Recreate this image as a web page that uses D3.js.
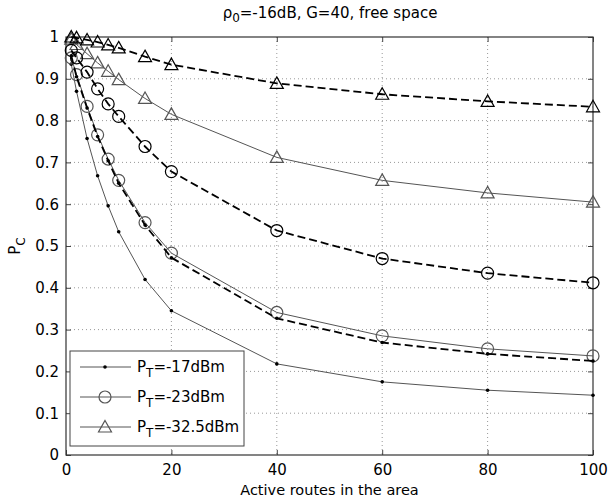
<!DOCTYPE html>
<html>
<head>
<meta charset="utf-8">
<script src="https://cdn.jsdelivr.net/npm/d3@7"></script>
<style>
  body { margin: 0; background: #fff; }
  svg text { font-family: "DejaVu Sans", Arial, sans-serif; fill: #000; }
  .grid line { stroke: #999; stroke-dasharray: 1,3; }
</style>
</head>
<body>
<div id="chart"></div>
<script>
// x values (active routes)
var routes = [1, 2, 4, 6, 8, 10, 15, 20, 40, 60, 80, 100];

// P_T = -17dBm
var pt17Solid  = [0.935, 0.87, 0.757, 0.668, 0.596, 0.534, 0.42, 0.345, 0.218, 0.175, 0.155, 0.143];
var pt17Dashed = [0.955, 0.905, 0.83, 0.762, 0.704, 0.65, 0.55, 0.472, 0.327, 0.269, 0.242, 0.225];
// P_T = -23dBm
var pt23Solid  = [0.95, 0.91, 0.834, 0.766, 0.708, 0.657, 0.556, 0.483, 0.341, 0.285, 0.254, 0.237];
var pt23Dashed = [0.968, 0.95, 0.916, 0.876, 0.84, 0.81, 0.738, 0.678, 0.537, 0.47, 0.435, 0.412];
// P_T = -32.5dBm
var pt32Solid  = [0.995, 0.982, 0.96, 0.938, 0.918, 0.898, 0.853, 0.815, 0.712, 0.657, 0.627, 0.605];
var pt32Dashed = [1.0, 0.998, 0.993, 0.988, 0.981, 0.974, 0.953, 0.934, 0.889, 0.863, 0.846, 0.833];

var xTicks = [0, 20, 40, 60, 80, 100];
var yTicks = [0, 0.1, 0.2, 0.3, 0.4, 0.5, 0.6, 0.7, 0.8, 0.9, 1];
var legendLabels = ["-17dBm", "-23dBm", "-32.5dBm"];

var series = [
  { values: pt17Solid,  marker: "dot",      dashed: false },
  { values: pt17Dashed, marker: "dot",      dashed: true },
  { values: pt23Solid,  marker: "circle",   dashed: false },
  { values: pt23Dashed, marker: "circle",   dashed: true },
  { values: pt32Solid,  marker: "triangle", dashed: false },
  { values: pt32Dashed, marker: "triangle", dashed: true }
];

var margin = { top: 37, right: 15, bottom: 49, left: 66 };
var width = 608 - margin.left - margin.right,
    height = 504 - margin.top - margin.bottom;

var svg = d3.select("#chart").append("svg")
    .attr("width", 608)
    .attr("height", 504);

var g = svg.append("g")
    .attr("transform", "translate(" + margin.left + "," + margin.top + ")");

var x = d3.scaleLinear().domain([0, 100]).range([0, width]);
var y = d3.scaleLinear().domain([0, 1]).range([height, 0]);

// grid
g.append("g").attr("class", "grid")
  .selectAll("line").data(xTicks.slice(1, -1)).join("line")
  .attr("x1", d => x(d)).attr("x2", d => x(d))
  .attr("y1", 0).attr("y2", height);
g.append("g").attr("class", "grid")
  .selectAll("line").data(yTicks.slice(1, -1)).join("line")
  .attr("x1", 0).attr("x2", width)
  .attr("y1", d => y(d)).attr("y2", d => y(d));

// axes (ticks inward)
var xAxis = d3.axisBottom(x).tickValues(xTicks).tickSize(-5).tickPadding(9).tickFormat(d3.format("d"));
var yAxis = d3.axisLeft(y).tickValues(yTicks).tickSize(-5).tickPadding(7).tickFormat(d => d === 0 || d === 1 ? d : d3.format(".1f")(d));

var gx = g.append("g").attr("transform", "translate(0," + height + ")").call(xAxis);
var gy = g.append("g").call(yAxis);
[gx, gy].forEach(function (a) {
  a.select(".domain").remove();
  a.selectAll("line").attr("stroke", "#444");
  a.selectAll("text").style("font-size", "15px").attr("fill", "#000");
});
// top/right ticks
g.append("g").call(d3.axisTop(x).tickValues(xTicks).tickSize(-5).tickFormat(""))
  .call(a => { a.select(".domain").remove(); a.selectAll("line").attr("stroke", "#444"); });
g.append("g").attr("transform", "translate(" + width + ",0)")
  .call(d3.axisRight(y).tickValues(yTicks).tickSize(-5).tickFormat(""))
  .call(a => { a.select(".domain").remove(); a.selectAll("line").attr("stroke", "#444"); });

// box
g.append("rect").attr("width", width).attr("height", height)
  .attr("fill", "none").attr("stroke", "#333").attr("stroke-width", 1.2);

var line = d3.line().x((d, i) => x(routes[i])).y(d => y(d));

function drawMarker(sel, type, color) {
  if (type === "dot") {
    sel.append("circle").attr("r", 1.8).attr("fill", "#000");
  } else if (type === "circle") {
    sel.append("circle").attr("r", 6).attr("fill", "none").attr("stroke", color).attr("stroke-width", 1.2);
  } else {
    sel.append("path").attr("d", "M0,-6.5L6.5,5L-6.5,5Z").attr("fill", "none").attr("stroke", color).attr("stroke-width", 1.2);
  }
}

// solid first, dashed on top
series.slice().sort((a, b) => a.dashed - b.dashed).forEach(function (s) {
  var color = s.dashed ? "#000" : "#555";
  g.append("path").datum(s.values)
    .attr("fill", "none")
    .attr("stroke", color)
    .attr("stroke-width", s.dashed ? 1.8 : 1)
    .attr("stroke-dasharray", s.dashed ? "8,4" : null)
    .attr("d", line);
  g.selectAll(null).data(s.values).join("g")
    .attr("transform", (d, i) => "translate(" + x(routes[i]) + "," + y(d) + ")")
    .each(function () { drawMarker(d3.select(this), s.marker, color); });
});

// legend
var legend = g.append("g").attr("transform", "translate(4,314)");
legend.append("rect").attr("width", 174).attr("height", 95)
  .attr("fill", "#fff").attr("stroke", "#444").attr("stroke-width", 1);
var markers = ["dot", "circle", "triangle"];
legendLabels.forEach(function (lab, i) {
  var ly = 16 + i * 30;
  var row = legend.append("g").attr("transform", "translate(0," + ly + ")");
  row.append("line").attr("x1", 10).attr("x2", 61).attr("y1", 0).attr("y2", 0)
    .attr("stroke", "#555").attr("stroke-width", 1);
  drawMarker(row.append("g").attr("transform", "translate(35,0)"), markers[i], "#555");
  var t = row.append("text").attr("x", 67).attr("y", 5).style("font-size", "15px");
  t.append("tspan").text("P");
  t.append("tspan").attr("dy", 5).style("font-size", "12px").text("T");
  t.append("tspan").attr("dy", -5).text("=" + lab);
});

// title
var title = svg.append("text").attr("x", 330).attr("y", 18).attr("text-anchor", "middle").style("font-size", "15px");
title.append("tspan").text("\u03C1");
title.append("tspan").attr("dy", 4).style("font-size", "12px").text("0");
title.append("tspan").attr("dy", -4).text("=-16dB, G=40, free space");

// x label
svg.append("text").attr("x", margin.left + width / 2).attr("y", 495)
  .attr("text-anchor", "middle").style("font-size", "14.5px").text("Active routes in the area");

// y label
var yl = svg.append("text").attr("transform", "translate(20," + (margin.top + height / 2) + ") rotate(-90)")
  .attr("text-anchor", "middle").style("font-size", "15px");
yl.append("tspan").text("P");
yl.append("tspan").attr("dy", 5).style("font-size", "12px").text("C");
</script>
</body>
</html>
